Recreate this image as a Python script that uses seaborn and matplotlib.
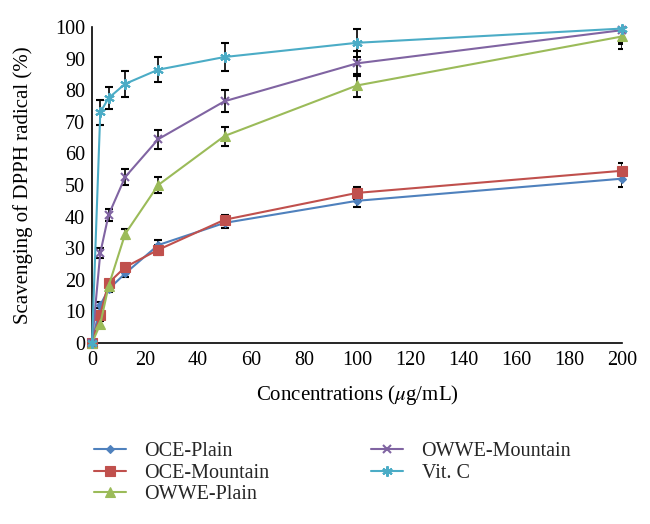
import matplotlib
matplotlib.use("Agg")
import matplotlib.pyplot as plt
import seaborn as sns
import pandas as pd
import numpy as np

conc = [0, 3.125, 6.25, 12.5, 25, 50, 100, 200]
series_names = ["OCE-Plain", "OCE-Mountain", "OWWE-Plain", "OWWE-Mountain", "Vit. C"]
oce_plain = [0, 12, 17, 22, 31, 38, 45, 52]
oce_plain_err = [0, 1, 1, 1.2, 1.5, 1.5, 2, 2.5]
oce_mountain = [0, 9, 19, 24, 29.5, 39, 47.5, 54.5]
oce_mountain_err = [0, 1, 1, 1, 1.5, 1.5, 2, 2.5]
owwe_plain = [0, 6, 18, 34.5, 50, 65.5, 81.5, 97]
owwe_plain_err = [0, 1, 1, 1.5, 2.5, 3, 3.5, 4]
owwe_mountain = [0, 28.5, 40.5, 52.5, 64.5, 76.5, 88.5, 99]
owwe_mountain_err = [0, 1.5, 2, 2.5, 3, 3.5, 4, 4.5]
vitc = [0, 73, 77.5, 82, 86.5, 90.5, 95, 99.5]
vitc_err = [0, 4, 3.5, 4, 4, 4.5, 4.5, 4.5]

values = [oce_plain, oce_mountain, owwe_plain, owwe_mountain, vitc]
errors = [oce_plain_err, oce_mountain_err, owwe_plain_err, owwe_mountain_err, vitc_err]
colors = ["#4F81BD", "#C0504D", "#9BBB59", "#8064A2", "#4BACC6"]
markers = ["D", "s", "^", "x", (6, 2, 0)]
msizes = [6, 9, 9, 8, 10]

rows = []
for name, vals, errs in zip(series_names, values, errors):
    for c, v, e in zip(conc, vals, errs):
        rows.append({"Concentration": c, "Value": v, "Err": e, "Series": name})
df = pd.DataFrame(rows)

sns.set_theme(style="white")
plt.rcParams["font.family"] = ["Liberation Serif", "DejaVu Serif"]
plt.rcParams["mathtext.fontset"] = "stix"

fig = plt.figure(figsize=(6.5, 5.24), dpi=100)
ax = fig.add_axes([92 / 650, 1 - 343 / 524, 530 / 650, 316 / 524])

for name in series_names:
    sub = df[df["Series"] == name]
    ax.errorbar(sub["Concentration"], sub["Value"], yerr=sub["Err"], fmt="none",
                ecolor="black", elinewidth=1.2, capsize=3, capthick=1.5, zorder=2)
for name, col, mk, ms in zip(series_names, colors, markers, msizes):
    sub = df[df["Series"] == name]
    mew = 1.5 if mk in ("x",) or isinstance(mk, tuple) else 0.8
    sns.lineplot(data=sub, x="Concentration", y="Value", ax=ax, color=col,
                 marker=mk, markersize=ms, markeredgecolor=col, markeredgewidth=mew,
                 linewidth=1.5, label=name, zorder=3, clip_on=False)

ax.set_xlim(0, 200)
ax.set_ylim(0, 100)
ax.set_xticks(np.arange(0, 201, 20))
ax.set_yticks(np.arange(0, 101, 10))
ax.tick_params(axis="both", length=0, labelsize=14.5, colors="black")
ax.tick_params(axis="y", pad=5)
ax.tick_params(axis="x", pad=6)
for s in ["top", "right"]:
    ax.spines[s].set_visible(False)
for s in ["left", "bottom"]:
    ax.spines[s].set_color("black")
    ax.spines[s].set_linewidth(1.2)
ax.set_xlabel("Concentrations ($\\mu$g/mL)", fontsize=15, color="black", labelpad=9)
ax.set_ylabel("Scavenging of DPPH radical (%)", fontsize=15, color="black", labelpad=16)

handles, labels = ax.get_legend_handles_labels()
if ax.legend_:
    ax.legend_.remove()
for h in handles:
    h.set_markersize(h.get_markersize() * 0.75)
leg = fig.legend(handles, labels, loc="upper left", bbox_to_anchor=(80 / 650, 1 - 428 / 524),
                 ncol=2, frameon=False, fontsize=14.5, handlelength=1.6, columnspacing=5.05,
                 labelspacing=0.12, handletextpad=0.9, borderpad=0.2)

# image bottom is clipped in reference
fig.patches.append(plt.Rectangle((0, 0), 1, 16 / 524, transform=fig.transFigure,
                                 facecolor="white", edgecolor="none", zorder=10))

fig.savefig("out.png", dpi=100)
